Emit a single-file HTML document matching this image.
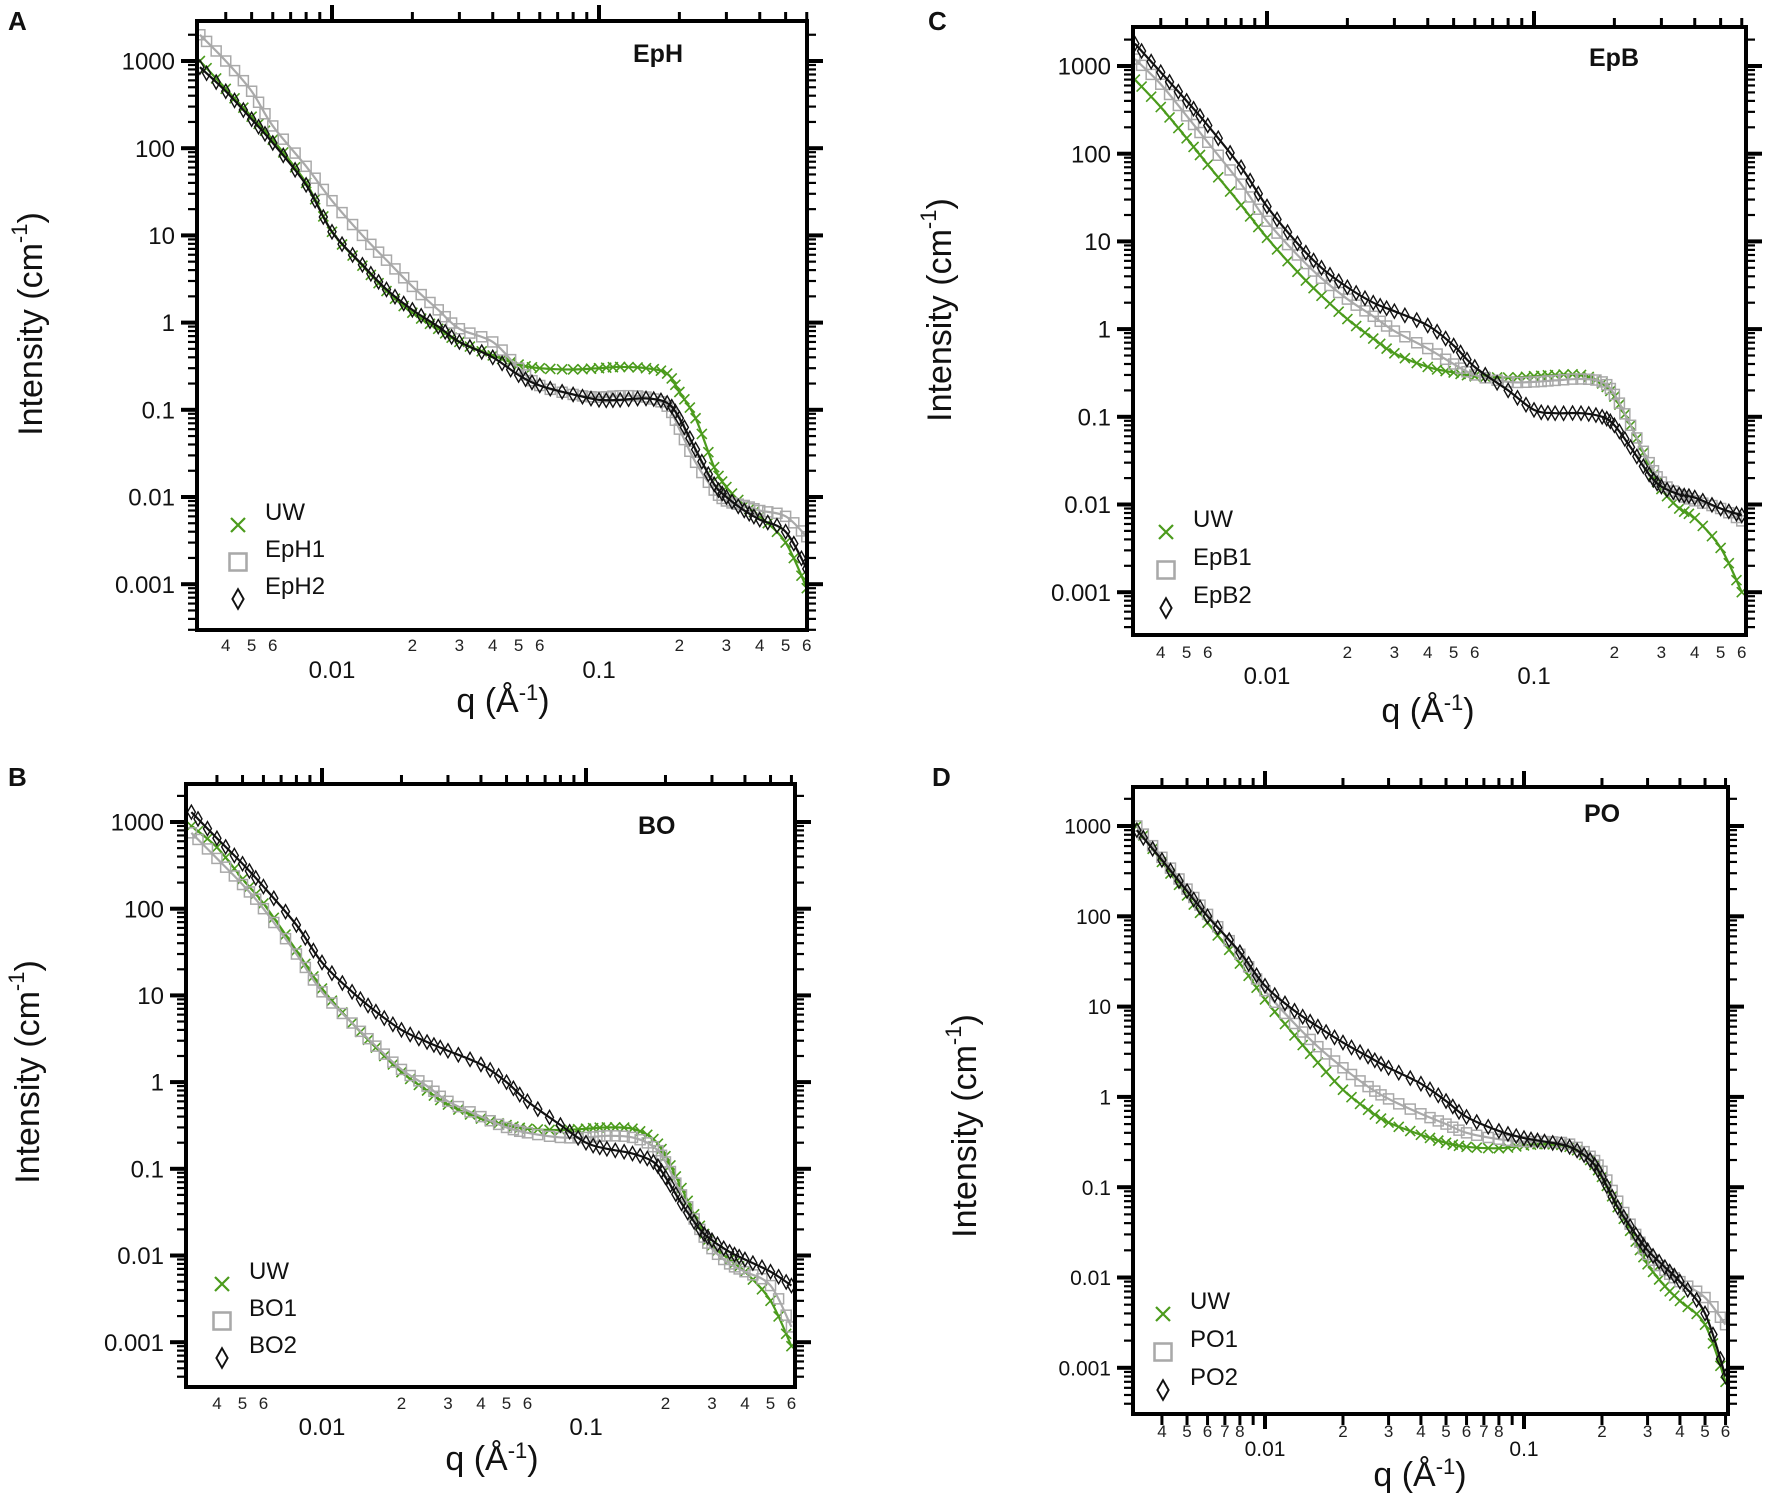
<!DOCTYPE html>
<html><head><meta charset="utf-8"><title>SAXS intensity panels</title>
<style>
html,body{margin:0;padding:0;background:#fff;}
svg{display:block;font-family:"Liberation Sans",sans-serif;}
</style></head>
<body>
<svg id="fig" width="1772" height="1496" viewBox="0 0 1772 1496" xmlns="http://www.w3.org/2000/svg"></svg>
<script>
// ---- data (q in 1/Å, intensity in 1/cm) ----
const qValues = [0.0032,0.004,0.005,0.006,0.008,0.01,0.013,0.016,0.02,0.025,0.03,0.04,0.05,0.06,0.08,0.1,0.12,0.15,0.18,0.2,0.23,0.27,0.3,0.35,0.4,0.5,0.6];

const epH_UW  = [1000,480,230,125,40,11,4.5,2.3,1.3,0.85,0.6,0.42,0.33,0.3,0.29,0.3,0.31,0.3,0.26,0.16,0.08,0.022,0.013,0.008,0.006,0.003,0.0009];
const epH_1   = [2000,1000,450,180,62,25,10,5.2,2.6,1.4,0.85,0.6,0.3,0.19,0.15,0.14,0.145,0.14,0.11,0.06,0.025,0.012,0.009,0.008,0.007,0.006,0.0035];
const epH_2   = [850,450,215,115,38,11,4.6,2.4,1.4,0.9,0.6,0.4,0.25,0.19,0.15,0.13,0.13,0.135,0.12,0.08,0.035,0.014,0.01,0.007,0.0055,0.004,0.0015];

const epB_UW  = [700,340,150,75,26,11,4.5,2.4,1.3,0.78,0.53,0.37,0.32,0.29,0.28,0.29,0.3,0.3,0.24,0.17,0.08,0.028,0.015,0.009,0.007,0.0032,0.001];
const epB_1   = [1200,620,270,135,45,17,7,3.8,2.2,1.4,0.95,0.6,0.4,0.3,0.25,0.25,0.26,0.27,0.25,0.18,0.08,0.03,0.018,0.013,0.011,0.009,0.0065];
const epB_2   = [1800,850,400,210,70,25,9.5,5,3,2,1.6,1.1,0.65,0.37,0.2,0.12,0.11,0.11,0.1,0.08,0.045,0.022,0.016,0.013,0.012,0.009,0.0075];

const bo_UW   = [900,510,220,115,33,12,4.8,2.5,1.3,0.8,0.55,0.38,0.32,0.29,0.28,0.29,0.3,0.29,0.22,0.14,0.06,0.022,0.013,0.009,0.0065,0.003,0.0009];
const bo_1    = [750,380,190,100,30,11,4.8,2.6,1.4,0.9,0.6,0.4,0.3,0.26,0.23,0.23,0.24,0.23,0.18,0.12,0.05,0.02,0.012,0.008,0.0065,0.0045,0.0015];
const bo_2    = [1300,650,330,180,65,24,11,6.5,4,2.9,2.3,1.6,1.0,0.6,0.32,0.2,0.17,0.15,0.12,0.08,0.04,0.02,0.015,0.011,0.009,0.0065,0.0045];

const po_UW   = [1000,400,170,85,30,12,4.8,2.4,1.2,0.72,0.52,0.38,0.31,0.28,0.27,0.29,0.3,0.28,0.2,0.13,0.06,0.025,0.014,0.008,0.0055,0.003,0.0007];
const po_1    = [1000,450,200,105,38,15,6.5,3.6,2.1,1.3,0.95,0.65,0.5,0.4,0.34,0.32,0.32,0.3,0.22,0.15,0.07,0.03,0.018,0.012,0.009,0.006,0.003];
const po_2    = [900,420,190,100,40,17,9,6,4,2.8,2.1,1.4,0.9,0.6,0.42,0.35,0.32,0.28,0.2,0.13,0.06,0.03,0.02,0.013,0.009,0.004,0.0008];

const yTickLabels = ["1000","100","10","1","0.1","0.01","0.001"];
const yTickValues = [1000,100,10,1,0.1,0.01,0.001];

const panelLetters = ["A","C","B","D"];
const panelTitles = ["EpH","EpB","BO","PO"];
const legendNames = [["UW","EpH1","EpH2"],["UW","EpB1","EpB2"],["UW","BO1","BO2"],["UW","PO1","PO2"]];
const panelSeries = [[epH_UW,epH_1,epH_2],[epB_UW,epB_1,epB_2],[bo_UW,bo_1,bo_2],[po_UW,po_1,po_2]];

// ---- layout ----
const layouts = [
 {left:197,right:807,top:21,bottom:630,x01:332,xdec:267,y1000:61,ydec:87.2,ylab:24,letter:[8,30],title:[633,62],ytitle:[33,324],xtitle:[503,712],minorY:651,majorY:678,leg:[238,525,37],minor78:false,bottomTicks:false},
 {left:1133,right:1746,top:27,bottom:635,x01:1267,xdec:267,y1000:66,ydec:87.7,ylab:24,letter:[928,30],title:[1589,66],ytitle:[942,310],xtitle:[1428,722],minorY:658,majorY:684,leg:[1166,532,38],minor78:false,bottomTicks:false},
 {left:186,right:795,top:784,bottom:1387,x01:322,xdec:264,y1000:822,ydec:86.7,ylab:24,letter:[8,786],title:[638,834],ytitle:[30,1072],xtitle:[492,1470],minorY:1409,majorY:1435,leg:[222,1284,37],minor78:false,bottomTicks:false},
 {left:1133,right:1728,top:787,bottom:1414,x01:1265,xdec:259,y1000:826,ydec:90.3,ylab:21,letter:[932,786],title:[1584,822],ytitle:[967,1126],xtitle:[1420,1486],minorY:1437,majorY:1456,leg:[1163,1314,38],minor78:true,bottomTicks:true}
];
const colors = ["#4b9b1c","#a9a9a9","#111111"];
const markerKinds = ["cross","square","diamond"];

const NS = "http://www.w3.org/2000/svg";
const svg = document.getElementById("fig");
function mk(tag, attrs, parent){
  const e = document.createElementNS(NS, tag);
  for (const k in attrs) e.setAttribute(k, attrs[k]);
  (parent||svg).appendChild(e);
  return e;
}
function lg(v){return Math.log10(v);}

function drawMarker(g, kind, x, y, color){
  let m;
  if (kind==="cross"){
    m = mk("path",{d:`M${x-5},${y-5}L${x+5},${y+5}M${x-5},${y+5}L${x+5},${y-5}`,stroke:color,"stroke-width":1.6,fill:"none"},g);
  } else if (kind==="square"){
    m = mk("rect",{x:x-5,y:y-5,width:10,height:10,stroke:color,"stroke-width":1.5,fill:"none"},g);
  } else {
    m = mk("path",{d:`M${x},${y-7}L${x+4},${y}L${x},${y+7}L${x-4},${y}Z`,stroke:color,"stroke-width":1.4,fill:"none"},g);
  }
  return m;
}
function bez(p1,c1,c2,p2,t){
  const u=1-t;
  return [u*u*u*p1[0]+3*u*u*t*c1[0]+3*u*t*t*c2[0]+t*t*t*p2[0],
          u*u*u*p1[1]+3*u*u*t*c1[1]+3*u*t*t*c2[1]+t*t*t*p2[1]];
}

layouts.forEach((p, pi) => {
  const X = q => p.x01 + (lg(q) + 2) * p.xdec;
  const Y = v => p.y1000 + (3 - lg(v)) * p.ydec;
  const g = mk("g",{});
  
  

  const cid = "clip"+pi;
  const cp = mk("clipPath",{id:cid},g);
  mk("rect",{x:p.left,y:p.top,width:p.right-p.left,height:p.bottom-p.top},cp);

  // y ticks left/right
  const yt = mk("g",{stroke:"#000"},g);
  
  
  for (let d=-5; d<=4; d++){
    for (let m=1; m<=9; m++){
      const v = m*Math.pow(10,d);
      const y = Y(v);
      if (y < p.top || y > p.bottom) continue;
      const len = m===1 ? 16 : 9, w = m===1 ? 4 : 2.2;
      mk("line",{x1:p.left-len,x2:p.left,y1:y,y2:y,"stroke-width":w},yt);
      mk("line",{x1:p.right,x2:p.right+len,y1:y,y2:y,"stroke-width":w},yt);
    }
  }
  // top (and optionally bottom) ticks
  const xt = mk("g",{stroke:"#000"},g);
  
  
  for (let d=-3; d<=-1; d++){
    for (let m=1; m<=9; m++){
      const q = m*Math.pow(10,d);
      const x = X(q);
      if (x < p.left+2 || x > p.right+1) continue;
      const len = m===1 ? 16 : 9, w = m===1 ? 4 : 3;
      mk("line",{x1:x,x2:x,y1:p.top-len,y2:p.top,"stroke-width":w},xt);
      if (p.bottomTicks){
        const bl = m===1 ? 15 : 11;
        mk("line",{x1:x,x2:x,y1:p.bottom,y2:p.bottom+bl,"stroke-width":w},xt);
      }
    }
  }
  // y labels
  yTickValues.forEach((v,i)=>{
    const t = mk("text",{x:p.left-22,y:Y(v)+p.ylab*0.36,"text-anchor":"end","font-size":p.ylab,fill:"#111"},g);
    t.textContent = yTickLabels[i];
    
    
  });
  // x minor labels
  const minors = [];
  for (let d=-3; d<=-1; d++){
    const ms = (p.minor78 && d<-1) ? [2,3,4,5,6,7,8] : [2,3,4,5,6];
    ms.forEach(m=>{ const q=m*Math.pow(10,d); if (X(q)>=p.left+5 && X(q)<=p.right+3) minors.push([q,m]); });
  }
  minors.forEach(([q,m])=>{
    const t = mk("text",{x:X(q),y:p.minorY,"text-anchor":"middle","font-size":17,fill:"#222"},g);
    t.textContent = String(m);
    
    
  });
  [[0.01,"0.01"],[0.1,"0.1"]].forEach(([q,s])=>{
    const t = mk("text",{x:X(q),y:p.majorY,"text-anchor":"middle","font-size":p.ylab,fill:"#111"},g);
    t.textContent = s;
    
    
  });

  // series
  const sg = mk("g",{"clip-path":`url(#${cid})`},g);
  panelSeries[pi].forEach((vals, si) => {
    const pts = qValues.map((q,i)=>[X(q),Y(vals[i])]);
    const ser = mk("g",{},sg);
    
    
    let d = `M${pts[0][0]},${pts[0][1]}`;
    const extra = [];
    for (let i=0;i<pts.length-1;i++){
      const p0 = pts[Math.max(0,i-1)], p1 = pts[i], p2 = pts[i+1], p3 = pts[Math.min(pts.length-1,i+2)];
      const c1 = [p1[0]+(p2[0]-p0[0])/6, p1[1]+(p2[1]-p0[1])/6];
      const c2 = [p2[0]-(p3[0]-p1[0])/6, p2[1]-(p3[1]-p1[1])/6];
      d += `C${c1[0]},${c1[1]} ${c2[0]},${c2[1]} ${p2[0]},${p2[1]}`;
      extra.push(bez(p1,c1,c2,p2,1/3));
      extra.push(bez(p1,c1,c2,p2,2/3));
    }
    const line = mk("path",{d:d,fill:"none",stroke:colors[si],"stroke-width":2.2},ser);
    
    
    pts.forEach(pt=>{
      const m = drawMarker(ser, markerKinds[si], pt[0], pt[1], colors[si]);
      
      
    });
    extra.forEach(pt=>{
      const m = drawMarker(ser, markerKinds[si], pt[0], pt[1], colors[si]);
      
      
    });
  });

  // frame
  const fr = mk("rect",{x:p.left,y:p.top,width:p.right-p.left,height:p.bottom-p.top,fill:"none",stroke:"#000","stroke-width":4},g);
  
  

  // legend
  const [lx, ly, ls] = p.leg;
  legendNames[pi].forEach((name, si) => {
    const cy = ly + si*ls;
    const m = drawMarker(g, markerKinds[si], lx, cy, colors[si]);
    
    
    const sc = markerKinds[si]==="square" ? 1.7 : 1.4;
    m.setAttribute("transform",`translate(${lx},${cy}) scale(${sc}) translate(${-lx},${-cy})`);
    const t = mk("text",{x:lx+27,y:cy-5,"font-size":24,fill:"#111"},g);
    t.textContent = name;
    
    
  });

  // titles
  const L = mk("text",{x:p.letter[0],y:p.letter[1],"font-size":26,"font-weight":"bold",fill:"#111"},g);
  L.textContent = panelLetters[pi];
  
  
  const T = mk("text",{x:p.title[0],y:p.title[1],"font-size":25,"font-weight":"bold",fill:"#111"},g);
  T.textContent = panelTitles[pi];
  
  
  const YT = mk("text",{x:p.ytitle[0],y:p.ytitle[1],"font-size":34,"text-anchor":"middle",fill:"#111",transform:`rotate(-90 ${p.ytitle[0]} ${p.ytitle[1]})`,"dominant-baseline":"middle"},g);
  YT.innerHTML = 'Intensity (cm<tspan dy="-12" font-size="22">-1</tspan><tspan dy="12">)</tspan>';
  
  
  const XT = mk("text",{x:p.xtitle[0],y:p.xtitle[1],"font-size":34,"text-anchor":"middle",fill:"#111"},g);
  XT.innerHTML = 'q (Å<tspan dy="-12" font-size="22">-1</tspan><tspan dy="12">)</tspan>';
  
  
});
</script>
</body></html>
